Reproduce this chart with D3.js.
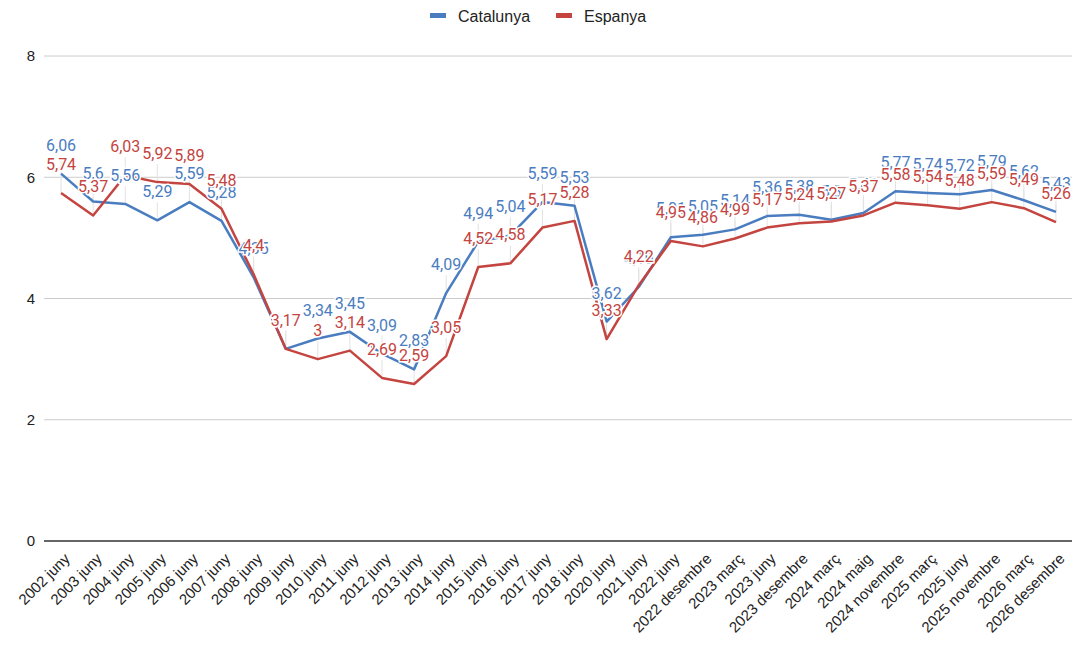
<!DOCTYPE html>
<html>
<head>
<meta charset="utf-8">
<script src="https://cdn.jsdelivr.net/npm/d3@7"></script>
<style>
  body { margin: 0; background: #fff; }
  svg { display: block; }
</style>
</head>
<body>
<svg id="chart"></svg>
<script>
const categories = [
  "2002 juny", "2003 juny", "2004 juny", "2005 juny", "2006 juny", "2007 juny",
  "2008 juny", "2009 juny", "2010 juny", "2011 juny", "2012 juny", "2013 juny",
  "2014 juny", "2015 juny", "2016 juny", "2017 juny", "2018 juny", "2020 juny",
  "2021 juny", "2022 juny", "2022 desembre", "2023 març", "2023 juny",
  "2023 desembre", "2024 març", "2024 maig", "2024 novembre", "2025 març",
  "2025 juny", "2025 novembre", "2026 març", "2026 desembre"
];
const catalunya = [
  6.06, 5.6, 5.56, 5.29, 5.59, 5.28, 4.35, 3.17, 3.34, 3.45, 3.09, 2.83,
  4.09, 4.94, 5.04, 5.59, 5.53, 3.62, 4.19, 5.01, 5.05, 5.14, 5.36,
  5.38, 5.3, 5.41, 5.77, 5.74, 5.72, 5.79, 5.62, 5.43
];
const espanya = [
  5.74, 5.37, 6.03, 5.92, 5.89, 5.48, 4.4, 3.17, 3, 3.14, 2.69, 2.59,
  3.05, 4.52, 4.58, 5.17, 5.28, 3.33, 4.22, 4.95, 4.86, 4.99, 5.17,
  5.24, 5.27, 5.37, 5.58, 5.54, 5.48, 5.59, 5.49, 5.26
];
const yTicks = [0, 2, 4, 6, 8];

const series = [
  { name: "Catalunya", values: catalunya, color: "#4a7dc0" },
  { name: "Espanya", values: espanya, color: "#c4443f" }
];

const W = 1075, H = 647;
const svg = d3.select("#chart").attr("width", W).attr("height", H);

const x = d3.scalePoint().domain(categories).range([45, 1072]).padding(0.5);
const y = d3.scaleLinear().domain([0, 8]).range([541, 56]);

// gridlines
svg.append("g")
  .selectAll("line")
  .data(yTicks)
  .join("line")
    .attr("x1", 44).attr("x2", 1072)
    .attr("y1", d => y(d)).attr("y2", d => y(d))
    .attr("stroke", d => d === 0 ? "#333" : "#ccc")
    .attr("stroke-width", d => d === 0 ? 1.3 : 1);

// y axis labels
svg.append("g")
  .selectAll("text")
  .data(yTicks)
  .join("text")
    .attr("x", 35).attr("y", d => y(d)).attr("dy", "0.35em")
    .attr("text-anchor", "end")
    .style("font-family", "'Liberation Sans', Arial, sans-serif")
    .style("font-size", "15px")
    .attr("fill", "#222")
    .text(d => d);

// x axis labels (rotated)
svg.append("g")
  .selectAll("text")
  .data(categories)
  .join("text")
    .attr("transform", d => `translate(${x(d) + 6},${y(0) + 15}) rotate(-45)`)
    .attr("text-anchor", "end")
    .attr("dy", "0.35em")
    .style("font-family", "'Liberation Sans', Arial, sans-serif")
    .style("font-size", "15px")
    .attr("fill", "#222")
    .text(d => d);

// leader lines from labels
series.forEach(s => {
  svg.append("g")
    .selectAll("line")
    .data(s.values)
    .join("line")
      .attr("x1", (d, i) => x(categories[i])).attr("x2", (d, i) => x(categories[i]))
      .attr("y1", d => y(d) - 18).attr("y2", d => y(d))
      .attr("stroke", "#e2e2e2").attr("stroke-width", 1);
});

// lines
const line = d3.line()
  .x((d, i) => x(categories[i]))
  .y(d => y(d));

series.forEach(s => {
  svg.append("path")
    .datum(s.values)
    .attr("fill", "none")
    .attr("stroke", s.color)
    .attr("stroke-width", 2.5)
    .attr("stroke-linejoin", "round")
    .attr("d", line);
});

// data labels
const fmt = v => String(v).replace(".", ",");
series.forEach(s => {
  svg.append("g")
    .selectAll("text")
    .data(s.values)
    .join("text")
      .attr("x", (d, i) => x(categories[i]))
      .attr("y", d => y(d) - 23)
      .attr("text-anchor", "middle")
      .style("font-family", "Roboto, sans-serif")
      .style("font-size", "16px")
      .attr("fill", s.color)
      .attr("stroke", "#fff")
      .attr("stroke-width", 3)
      .attr("paint-order", "stroke")
      .text(d => fmt(d));
});

// legend
const legend = svg.append("g");
const items = [
  { s: series[0], x: 430 },
  { s: series[1], x: 556 }
];
items.forEach(it => {
  legend.append("rect")
    .attr("x", it.x).attr("y", 13).attr("width", 16).attr("height", 5)
    .attr("fill", it.s.color);
  legend.append("text")
    .attr("x", it.x + 28).attr("y", 16).attr("dy", "0.35em")
    .style("font-family", "'Liberation Sans', Arial, sans-serif")
    .style("font-size", "16px")
    .attr("fill", "#222")
    .text(it.s.name);
});
</script>
</body>
</html>
